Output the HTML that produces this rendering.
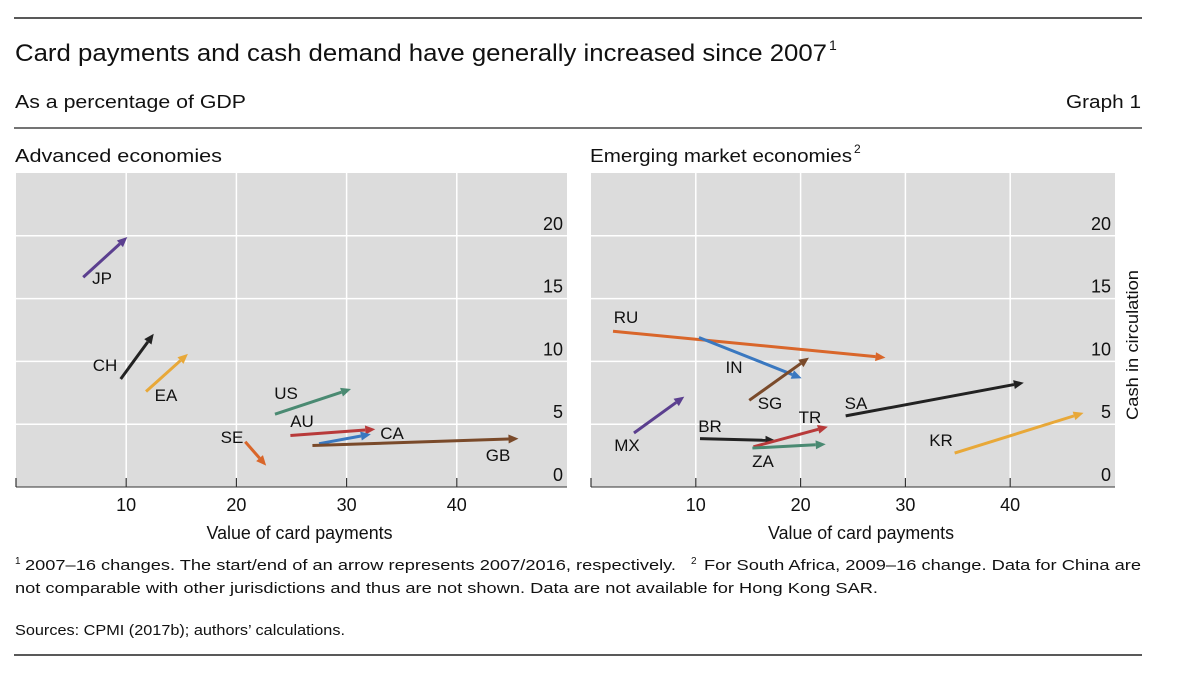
<!DOCTYPE html>
<html><head><meta charset="utf-8"><style>
body{margin:0;background:#fff;font-family:"Liberation Sans",sans-serif;}
svg{display:block}
text{font-family:"Liberation Sans",sans-serif;fill:#111}
</style></head><body>
<svg width="1200" height="691">
<line x1="14" y1="18" x2="1142" y2="18" stroke="#222" stroke-width="1.5"/>
<text x="15" y="61" font-size="24" textLength="812" lengthAdjust="spacingAndGlyphs">Card payments and cash demand have generally increased since 2007</text>
<text x="829" y="50" font-size="14">1</text>
<text x="15" y="108" font-size="18" textLength="231" lengthAdjust="spacingAndGlyphs">As a percentage of GDP</text>
<text x="1141" y="108" font-size="18" text-anchor="end" textLength="75" lengthAdjust="spacingAndGlyphs">Graph 1</text>
<line x1="14" y1="128" x2="1142" y2="128" stroke="#222" stroke-width="1.2"/>
<text x="15" y="162" font-size="18" textLength="207" lengthAdjust="spacingAndGlyphs">Advanced economies</text>
<text x="590" y="162" font-size="18" textLength="262" lengthAdjust="spacingAndGlyphs">Emerging market economies</text>
<text x="854" y="153" font-size="12">2</text>
<g id="left"></g>
<g id="right"></g>
<text transform="translate(1138,345) rotate(-90)" font-size="17" text-anchor="middle" textLength="150" lengthAdjust="spacingAndGlyphs">Cash in circulation</text>
<text x="15" y="564" font-size="10">1</text>
<text x="25" y="570" font-size="15" textLength="651" lengthAdjust="spacingAndGlyphs">2007–16 changes. The start/end of an arrow represents 2007/2016, respectively.</text>
<text x="691" y="564" font-size="10">2</text>
<text x="704" y="570" font-size="15" textLength="437" lengthAdjust="spacingAndGlyphs">For South Africa, 2009–16 change. Data for China are</text>
<text x="15" y="593" font-size="15" textLength="863" lengthAdjust="spacingAndGlyphs">not comparable with other jurisdictions and thus are not shown. Data are not available for Hong Kong SAR.</text>
<text x="15" y="635" font-size="15" textLength="330" lengthAdjust="spacingAndGlyphs">Sources: CPMI (2017b); authors’ calculations.</text>
<line x1="14" y1="655" x2="1142" y2="655" stroke="#222" stroke-width="1.5"/>
</svg>
<script>
const xTicks=[10,20,30,40];
const yTicks=[0,5,10,15,20];
const advCodes=["JP","CH","EA","US","AU","CA","GB","SE"];
const advX0=[6.1,9.5,11.8,23.5,24.9,27.5,26.9,20.8];
const advY0=[16.7,8.6,7.6,5.8,4.1,3.45,3.3,3.6];
const advX1=[10.1,12.5,15.6,30.4,32.6,32.2,45.6,22.7];
const advY1=[19.9,12.2,10.6,7.8,4.6,4.2,3.85,1.7];
const advColors=["#5b3f8f","#222","#e8a838","#4a8a72","#b83a3a","#3a78c0","#7a4a2a","#d9662a"];
const advLabelPos=[[102,284],[105,371],[166,401],[286,399],[302,427],[392,439],[498,461],[232,443]];
const emeCodes=["RU","IN","SG","MX","BR","TR","ZA","SA","KR"];
const emeX0=[2.1,10.3,15.1,4.1,10.4,15.5,15.4,24.3,34.7];
const emeY0=[12.4,11.9,6.9,4.3,3.85,3.2,3.1,5.66,2.7];
const emeX1=[28.1,20.1,20.8,8.9,17.6,22.6,22.4,41.3,47.0];
const emeY1=[10.3,8.66,10.3,7.2,3.7,4.8,3.4,8.3,5.9];
const emeColors=["#d9662a","#3a78c0","#7a4a2a","#5b3f8f","#222","#b83a3a","#4a8a72","#222","#e8a838"];
const emeLabelPos=[[626,323],[734,373],[770,409],[627,451],[710,432],[810,423],[763,467],[856,409],[941,446]];
const NS="http://www.w3.org/2000/svg";
function mk(p,t,a){const e=document.createElementNS(NS,t);for(const k in a)e.setAttribute(k,a[k]);p.appendChild(e);return e;}
function panel(g,L,R,codes,x0,y0,x1,y1,cols,lp){
  const T=173,B=487,xmax=50,ymax=25;
  const sx=v=>L+(R-L)*v/xmax, sy=v=>B-(B-T)*v/ymax;
  let r=mk(g,'rect',{x:L,y:T,width:R-L,height:B-T,fill:'#dcdcdc'});
  
  
  yTicks.forEach(v=>{
    if(v>0){let l=mk(g,'line',{x1:L,x2:R,y1:sy(v),y2:sy(v),stroke:'#fff','stroke-width':1.5});
    
    }
    let t=mk(g,'text',{x:R-4,y:sy(v)-6,'font-size':18,'text-anchor':'end'});t.textContent=v;
    
    
  });
  xTicks.forEach(v=>{
    let l=mk(g,'line',{x1:sx(v),x2:sx(v),y1:T,y2:B,stroke:'#fff','stroke-width':1.5});
    
    
    let tk=mk(g,'line',{x1:sx(v),x2:sx(v),y1:B-9,y2:B,stroke:'#333','stroke-width':1.2});
    
    
    let t=mk(g,'text',{x:sx(v),y:B+24,'font-size':18,'text-anchor':'middle'});t.textContent=v;
    
    
  });
  let a=mk(g,'line',{x1:L,x2:R,y1:B,y2:B,stroke:'#333','stroke-width':1});
  
  
  let l0=mk(g,'line',{x1:L,x2:L,y1:B-9,y2:B,stroke:'#333','stroke-width':1.2});
  
  
  let xt=mk(g,'text',{x:(L+R)/2+8,y:B+52,'font-size':18,'text-anchor':'middle',textLength:186,lengthAdjust:'spacingAndGlyphs'});xt.textContent='Value of card payments';
  
  
  codes.forEach((c,i)=>{
    const ax=sx(x0[i]),ay=sy(y0[i]),bx=sx(x1[i]),by=sy(y1[i]);
    const ang=Math.atan2(by-ay,bx-ax),h=10,w=4.5;
    const ex=bx-h*Math.cos(ang),ey=by-h*Math.sin(ang);
    let ln=mk(g,'line',{x1:ax,y1:ay,x2:ex,y2:ey,stroke:cols[i],'stroke-width':3});
    
    
    const p=[bx,by,ex-w*Math.sin(ang),ey+w*Math.cos(ang),ex+w*Math.sin(ang),ey-w*Math.cos(ang)];
    let hd=mk(g,'polygon',{points:p.join(' '),fill:cols[i]});
    
    
    let t=mk(g,'text',{x:lp[i][0],y:lp[i][1],'font-size':17,'text-anchor':'middle'});t.textContent=c;
    
    
  });
}
panel(document.getElementById('left'),16,567,advCodes,advX0,advY0,advX1,advY1,advColors,advLabelPos);
panel(document.getElementById('right'),591,1115,emeCodes,emeX0,emeY0,emeX1,emeY1,emeColors,emeLabelPos);
</script>
</body></html>
